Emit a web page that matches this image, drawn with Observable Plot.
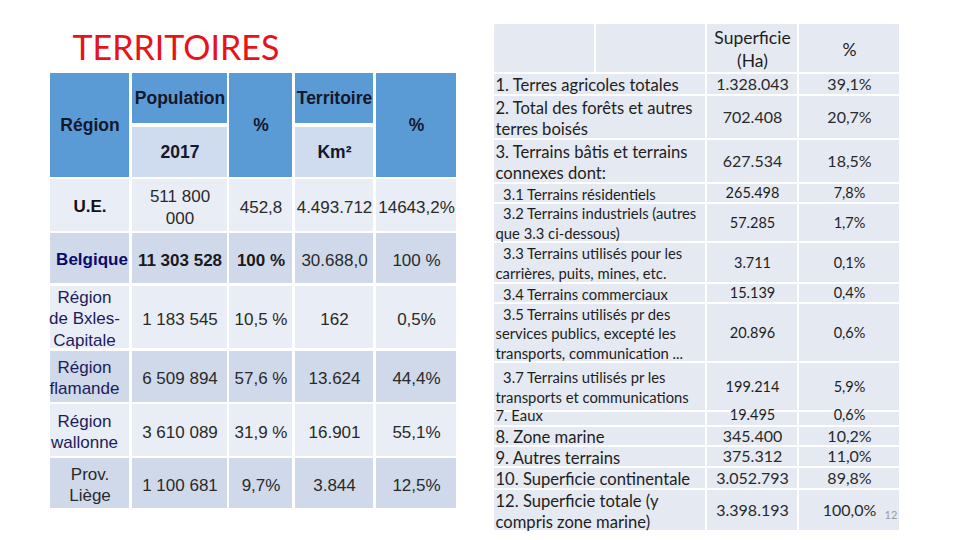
<!DOCTYPE html>
<html>
<head>
<meta charset="utf-8">
<script src="https://cdn.jsdelivr.net/npm/d3@7"></script>
<script src="https://cdn.jsdelivr.net/npm/@observablehq/plot@0.6"></script>
<style>
  html, body { margin: 0; padding: 0; background: #ffffff; }
  #chart svg { display: block; }
</style>
</head>
<body>
<div id="chart"></div>
<script>
// ---------------- DATA ----------------
const title = "TERRITOIRES";

// Left table
const leftHeaders = ["Région", "Population", "%", "Territoire", "%"];
const leftSubHeaders = ["2017", "Km²"];
const regions = ["U.E.", "Belgique", "Région\nde Bxles-\nCapitale", "Région\nflamande", "Région\nwallonne", "Prov.\nLiège"];
const population = ["511 800\n000", "11 303 528", "1 183 545", "6 509 894", "3 610 089", "1 100 681"];
const populationPct = ["452,8", "100 %", "10,5 %", "57,6 %", "31,9 %", "9,7%"];
const territoire = ["4.493.712", "30.688,0", "162", "13.624", "16.901", "3.844"];
const territoirePct = ["14643,2%", "100 %", "0,5%", "44,4%", "55,1%", "12,5%"];

// Right table
const rightHeaders = ["Superficie\n(Ha)", "%"];
const landUse = [
  "1. Terres agricoles totales",
  "2. Total des forêts et autres\nterres boisés",
  "3. Terrains bâtis et terrains\nconnexes dont:",
  "\u00a0\u00a03.1 Terrains résidentiels",
  "\u00a0\u00a03.2 Terrains industriels (autres\nque 3.3 ci-dessous)",
  "\u00a0\u00a03.3 Terrains utilisés pour les\ncarrières, puits, mines, etc.",
  "\u00a0\u00a03.4 Terrains commerciaux",
  "\u00a0\u00a03.5 Terrains utilisés pr des\nservices publics, excepté les\ntransports, communication ...",
  "\u00a0\u00a03.7 Terrains utilisés pr les\ntransports et communications",
  "7. Eaux",
  "8. Zone marine",
  "9. Autres terrains",
  "10. Superficie continentale",
  "12. Superficie totale (y\ncompris zone marine)"
];
const superficie = ["1.328.043", "702.408", "627.534", "265.498", "57.285", "3.711", "15.139", "20.896", "199.214", "19.495", "345.400", "375.312", "3.052.793", "3.398.193"];
const superficiePct = ["39,1%", "20,7%", "18,5%", "7,8%", "1,7%", "0,1%", "0,4%", "0,6%", "5,9%", "0,6%", "10,2%", "11,0%", "89,8%", "100,0%"];
const pageNumber = "12";

// ---------------- LAYOUT ----------------
const ARIAL = "'Liberation Sans', Arial, sans-serif";
const CAL = "Lato, 'Open Sans', sans-serif";

const LC = [[50,129],[132,227],[229,292],[295,373],[376,456]];
const LH = { top: 73, mid1: 123, mid2: 127, bottom: 177 };
const LR = [[179,231],[233,283],[286,348],[351,402],[404,456],[458,508]];
const leftBand = ["#e9edf5", "#cfd9ea"];
const headBlue = "#5b9bd5";
const subHead = "#cfdbee";

const RC = [[494,705],[707,797],[799,899]];
const RH = [24,72];
const RR = [[74,94],[96,138],[140,182],[184,202],[204,241],[243,282],[284,302],[304,361],[363,410],[412,425],[427,445],[447,466],[468,488],[490,530]];
const smallRow = [false,false,false,true,true,true,true,true,true,true,false,false,false,false];
const rightFill = "#e5e9f2";

const cx = c => (c[0] + c[1]) / 2;
const cy = r => (r[0] + r[1]) / 2;

// cells
const cells = [];
cells.push({x1: LC[0][0], x2: LC[0][1], y1: LH.top, y2: LH.bottom, fill: headBlue});
cells.push({x1: LC[1][0], x2: LC[1][1], y1: LH.top, y2: LH.mid1, fill: headBlue});
cells.push({x1: LC[1][0], x2: LC[1][1], y1: LH.mid2, y2: LH.bottom, fill: subHead});
cells.push({x1: LC[2][0], x2: LC[2][1], y1: LH.top, y2: LH.bottom, fill: headBlue});
cells.push({x1: LC[3][0], x2: LC[3][1], y1: LH.top, y2: LH.mid1, fill: headBlue});
cells.push({x1: LC[3][0], x2: LC[3][1], y1: LH.mid2, y2: LH.bottom, fill: subHead});
cells.push({x1: LC[4][0], x2: LC[4][1], y1: LH.top, y2: LH.bottom, fill: headBlue});
regions.forEach((_, i) => LC.forEach(c => cells.push({x1: c[0], x2: c[1], y1: LR[i][0], y2: LR[i][1], fill: leftBand[i % 2]})));
[[RC[0][0], 594], [596, RC[0][1]], RC[1], RC[2]].forEach(c => cells.push({x1: c[0], x2: c[1], y1: RH[0], y2: RH[1], fill: rightFill}));
landUse.forEach((_, i) => RC.forEach(c => cells.push({x1: c[0], x2: c[1], y1: RR[i][0], y2: RR[i][1], fill: rightFill})));

// texts
const leftHeadTexts = [
  {x: cx(LC[0]), y: (LH.top + LH.bottom) / 2, text: leftHeaders[0]},
  {x: cx(LC[1]), y: (LH.top + LH.mid1) / 2, text: leftHeaders[1]},
  {x: cx(LC[2]), y: (LH.top + LH.bottom) / 2, text: leftHeaders[2]},
  {x: cx(LC[3]), y: (LH.top + LH.mid1) / 2, text: leftHeaders[3]},
  {x: cx(LC[4]), y: (LH.top + LH.bottom) / 2, text: leftHeaders[4]},
  {x: cx(LC[1]), y: (LH.mid2 + LH.bottom) / 2, text: leftSubHeaders[0]},
  {x: cx(LC[3]), y: (LH.mid2 + LH.bottom) / 2, text: leftSubHeaders[1]}
];
const regionColor = ["#111111", "#0a0a6e", "#1c1c5c", "#1c1c5c", "#1c1c5c", "#2a2a2a"];
const regionTexts = regions.map((r, i) => ({x: i >= 2 && i <= 4 ? 84 : cx(LC[0]) + (i === 1 ? 2 : 0), y: cy(LR[i]), text: r, fill: regionColor[i], bold: i <= 1}));
const valueTexts = [];
[population, populationPct, territoire, territoirePct].forEach((col, j) => col.forEach((v, i) => valueTexts.push({x: cx(LC[j + 1]), y: cy(LR[i]), text: v, bold: i === 1 && j <= 1})));

const rightHeadTexts = rightHeaders.map((h, j) => ({x: cx(RC[j + 1]), y: cy(RH), text: h}));
const rightLabelTexts = landUse.map((l, i) => ({x: RC[0][0] + 1, y: cy(RR[i]) + (i === 9 ? -4 : 0), text: l, small: smallRow[i]}));
const rightValueTexts = [];
[superficie, superficiePct].forEach((col, j) => col.forEach((v, i) => rightValueTexts.push({x: cx(RC[j + 1]), y: cy(RR[i]) + (i === 9 ? -4 : 0), text: v, small: smallRow[i]})));

const chart = Plot.plot({
  width: 960,
  height: 540,
  margin: 0,
  style: {background: "#ffffff"},
  x: {domain: [0, 960], range: [0, 960], axis: null},
  y: {domain: [0, 540], range: [0, 540], axis: null},
  color: {type: "identity"},
  marks: [
    Plot.rect(cells, {x1: "x1", x2: "x2", y1: "y1", y2: "y2", fill: "fill"}),
    Plot.text([{x: 72, y: 49, text: title}], {x: "x", y: "y", text: "text", textAnchor: "start", fontSize: 34, fontFamily: CAL, fill: "#e8121b"}),
    Plot.text(leftHeadTexts, {x: "x", y: "y", text: "text", fontSize: 17.5, fontWeight: "bold", fontFamily: ARIAL, fill: "#15172b"}),
    Plot.text(regionTexts.filter(d => d.bold), {x: "x", y: "y", text: "text", fontSize: 17, fontWeight: "bold", fontFamily: ARIAL, fill: "fill", lineHeight: 1.25}),
    Plot.text(regionTexts.filter(d => !d.bold), {x: "x", y: "y", text: "text", fontSize: 17, fontFamily: ARIAL, fill: "fill", lineHeight: 1.25}),
    Plot.text(valueTexts.filter(d => d.bold), {x: "x", y: "y", text: "text", fontSize: 17, fontWeight: "bold", fontFamily: ARIAL, fill: "#1a1a1a", lineHeight: 1.3}),
    Plot.text(valueTexts.filter(d => !d.bold), {x: "x", y: "y", text: "text", fontSize: 17, fontFamily: ARIAL, fill: "#2a2a2a", lineHeight: 1.3}),
    Plot.text(rightHeadTexts, {x: "x", y: "y", text: "text", fontSize: 17.5, fontFamily: CAL, fill: "#1e1e1e", lineHeight: 1.3}),
    Plot.text(rightLabelTexts.filter(d => !d.small), {x: "x", y: "y", text: "text", textAnchor: "start", fontSize: 16.6, fontFamily: CAL, fill: "#1e1e1e", lineHeight: 1.3}),
    Plot.text(rightLabelTexts.filter(d => d.small), {x: "x", y: "y", text: "text", textAnchor: "start", fontSize: 14.8, fontFamily: CAL, fill: "#1e1e1e", lineHeight: 1.32}),
    Plot.text(rightValueTexts.filter(d => !d.small), {x: "x", y: "y", text: "text", fontSize: 16, fontFamily: CAL, fill: "#2a2a2a"}),
    Plot.text(rightValueTexts.filter(d => d.small), {x: "x", y: "y", text: "text", fontSize: 14.5, fontFamily: CAL, fill: "#1e1e1e"}),
    Plot.text([{x: 884, y: 515, text: pageNumber}], {x: "x", y: "y", text: "text", textAnchor: "start", fontSize: 11, fontFamily: CAL, fill: "#9a9a9a"})
  ]
});
document.getElementById("chart").appendChild(chart);
</script>
</body>
</html>
